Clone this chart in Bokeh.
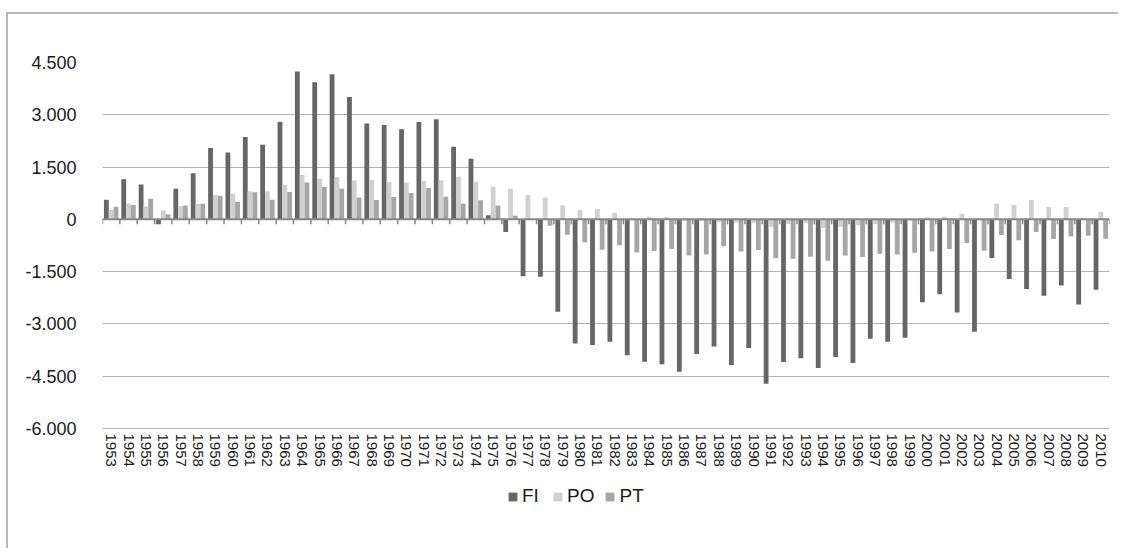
from bokeh.plotting import figure
from bokeh.models import (ColumnDataSource, FactorRange, Range1d, FixedTicker, Span,
                          Legend, LegendItem)
from bokeh.transform import dodge
from bokeh.embed import file_html
from bokeh.resources import INLINE

years = [str(y) for y in range(1953, 2011)]

fi = [560, 1150, 1000, -140, 880, 1320, 2050, 1920, 2360, 2140,
      2800, 4245, 3930, 4160, 3510, 2750, 2705, 2585, 2790, 2870,
      2080, 1740, 120, -360, -1635, -1645, -2650, -3565, -3605, -3510,
      -3900, -4085, -4160, -4370, -3865, -3645, -4180, -3690, -4715, -4095,
      -3985, -4265, -3950, -4120, -3425, -3510, -3395, -2380, -2150, -2670,
      -3225, -1110, -1710, -2000, -2190, -1895, -2440, -2020]

po = [265, 445, 375, 260, 380, 445, 700, 735, 805, 805,
      990, 1270, 1165, 1215, 1125, 1135, 1070, 1060, 1100, 1120,
      1220, 1080, 945, 880, 700, 620, 400, 265, 295, 190,
      -30, 75, 65, -40, -50, -85, -95, -100, -210, -135,
      -115, -250, -210, -170, -135, -95, -40, 55, 75, 155,
      -30, 455, 410, 555, 355, 355, 40, 220]

pt = [360, 410, 590, 145, 400, 445, 675, 505, 775, 560,
      785, 1060, 935, 880, 630, 555, 640, 755, 900, 650,
      450, 545, 395, 100, -20, -185, -440, -655, -870, -745,
      -950, -910, -850, -1040, -1005, -775, -920, -880, -1110, -1130,
      -1070, -1185, -1040, -1080, -985, -1005, -955, -920, -850, -680,
      -900, -450, -600, -365, -565, -495, -470, -555]

series_names = ["FI", "PO", "PT"]
series_colors = ["#666666", "#d0d0d0", "#a6a6a6"]

y_ticks = [-6000, -4500, -3000, -1500, 0, 1500, 3000, 4500]
y_tick_labels = ["-6.000", "-4.500", "-3.000", "-1.500", "0", "1.500", "3.000", "4.500"]
y_min, y_max = -6000, 4500

FONT = "Liberation Sans"

# plotted value band (-6000..4500) is 366 px tall; the frame is extended below it
# so that the category labels and the legend sit inside the frame area
band_px, frame_px = 366, 446
y_lo = y_max - (y_max - y_min) * frame_px / band_px

p = figure(frame_width=1007, frame_height=frame_px, output_backend="svg", toolbar_location=None,
           x_range=FactorRange(*years, range_padding=0),
           y_range=Range1d(y_lo, y_max),
           min_border_left=94, min_border_right=9, min_border_top=48, min_border_bottom=40,
           background_fill_color="white", border_fill_color="white")
# chart-area frame (left and top edges visible, the rest cropped)
p.margin = (12, 0, 0, 6)
p.styles = {"border-left": "2px solid #b8b8b8", "border-top": "2px solid #b8b8b8"}

p.outline_line_color = None
p.xgrid.grid_line_color = None
p.ygrid.ticker = FixedTicker(ticks=y_ticks)
p.ygrid.grid_line_color = "#b3b3b3"
p.ygrid.grid_line_width = 1.2

source = ColumnDataSource(dict(year=years, FI=fi, PO=po, PT=pt))
bw = 0.277
offsets = [-bw, 0.0, bw]
renderers = []
for name, col, off in zip(series_names, series_colors, offsets):
    r = p.vbar(x=dodge("year", off, range=p.x_range), top=name, bottom=0, width=bw,
               source=source, fill_color=col, line_color=None)
    renderers.append(r)

# zero axis line with category boundary ticks
p.add_layout(Span(location=0, dimension="width", line_color="#868686", line_width=2))
tick_src = ColumnDataSource(dict(year=years))
p.segment(x0=dodge("year", -0.5, range=p.x_range), y0=0,
          x1=dodge("year", -0.5, range=p.x_range), y1=-140,
          source=tick_src, line_color="#868686", line_width=1.5)
end_src = ColumnDataSource(dict(year=years[-1:]))
p.segment(x0=dodge("year", 0.5, range=p.x_range), y0=0,
          x1=dodge("year", 0.5, range=p.x_range), y1=-140,
          source=end_src, line_color="#868686", line_width=1.5)

# axes
p.yaxis.ticker = FixedTicker(ticks=y_ticks)
p.yaxis.major_label_overrides = {t: l for t, l in zip(y_ticks, y_tick_labels)}
p.yaxis.axis_line_color = None
p.yaxis.major_tick_line_color = None
p.yaxis.minor_tick_line_color = None
p.yaxis.major_label_standoff = 20
p.yaxis.major_label_text_font = FONT
p.yaxis.major_label_text_font_size = "18px"
p.yaxis.major_label_text_color = "#1a1a1a"

p.xaxis.fixed_location = y_min
p.xaxis.axis_line_color = None
p.xaxis.major_tick_line_color = None
p.xaxis.major_tick_out = 0
p.xaxis.major_tick_in = 0
p.xaxis.major_label_orientation = "vertical"
p.xaxis.major_label_standoff = 5
p.xaxis.major_label_text_font = FONT
p.xaxis.major_label_text_font_size = "15px"
p.xaxis.major_label_text_color = "#1a1a1a"

legend = Legend(items=[LegendItem(label=n, renderers=[r]) for n, r in zip(series_names, renderers)],
                orientation="horizontal", location=(405, 1),
                glyph_width=11, glyph_height=11, label_standoff=4, spacing=10,
                padding=0, margin=0, border_line_color=None, background_fill_alpha=0,
                label_text_font=FONT, label_text_font_size="19px", label_text_color="#1a1a1a")
p.add_layout(legend, "center")

open("out.html", "w").write(file_html(p, INLINE))
